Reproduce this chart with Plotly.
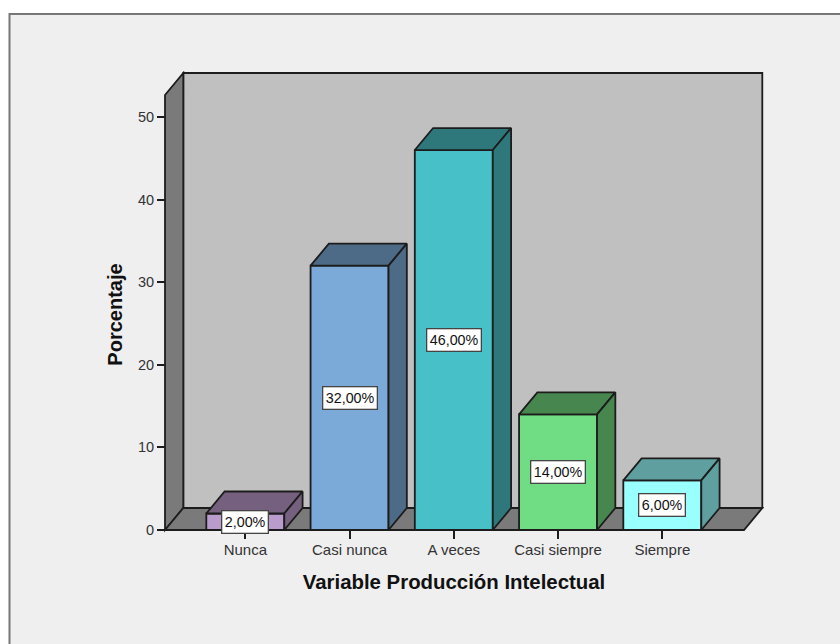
import plotly.graph_objects as go

categories = ["Nunca", "Casi nunca", "A veces", "Casi siempre", "Siempre"]
values = [2, 32, 46, 14, 6]
value_labels = ["2,00%", "32,00%", "46,00%", "14,00%", "6,00%"]
y_ticks = [0, 10, 20, 30, 40, 50]
front_colors = ["#B99CCB", "#7BA9D8", "#47C1C7", "#70DC84", "#99FFFF"]
depth_colors = ["#75607F", "#4D6B87", "#2E787C", "#47864F", "#5F9F9F"]

W, H = 840, 644
INK = "#1c1c1c"
LW = 1.8
# pixel calibration of the two axes
PX_CAT = 104.25
PX_VAL = 8.26
X0_PX = 245.3
Y0_PX = 530.0
DOM_L, DOM_R, DOM_T, DOM_B = 144.0, 764.0, 71.0, 558.0
DX = 18.3 / PX_CAT
DY = 22.0 / PX_VAL
BAR_W = 0.748

x_left = (165 - X0_PX) / PX_CAT
x_right = (744 - X0_PX) / PX_CAT
y_top = (Y0_PX - 95) / PX_VAL

fig = go.Figure()

fig.add_trace(go.Bar(
    x=list(range(len(categories))), y=values, width=BAR_W,
    marker=dict(color=front_colors, line=dict(color=INK, width=LW)),
    hoverinfo="skip", showlegend=False,
))

# top and side faces of each bar, derived from the values
for i, v in enumerate(values):
    l, r = i - BAR_W / 2, i + BAR_W / 2
    fig.add_trace(go.Scatter(
        x=[l, r, r + DX, l + DX, l], y=[v, v, v + DY, v + DY, v],
        mode="lines", fill="toself", fillcolor=depth_colors[i],
        line=dict(color=INK, width=LW), hoverinfo="skip", showlegend=False,
    ))
    fig.add_trace(go.Scatter(
        x=[r, r + DX, r + DX, r, r], y=[0, DY, v + DY, v, 0],
        mode="lines", fill="toself", fillcolor=depth_colors[i],
        line=dict(color=INK, width=LW), hoverinfo="skip", showlegend=False,
    ))

shapes = [
    # panel frame, running off the right and bottom edges
    dict(type="rect", xref="paper", yref="paper", layer="below",
         x0=9.5 / W, x1=1.02, y0=-0.02, y1=1 - 14 / H,
         fillcolor="#EFEFEF", line=dict(color="#777777", width=2)),
    # back wall
    dict(type="rect", xref="x", yref="y", layer="below",
         x0=x_left + DX, x1=x_right + DX, y0=DY, y1=y_top + DY,
         fillcolor="#C0C0C0", line=dict(color=INK, width=LW)),
    # left wall
    dict(type="path", xref="x", yref="y", layer="below",
         path=f"M{x_left},0 L{x_left + DX},{DY} L{x_left + DX},{y_top + DY} L{x_left},{y_top} Z",
         fillcolor="#7A7A7A", line=dict(color=INK, width=LW)),
    # floor
    dict(type="path", xref="x", yref="y", layer="below",
         path=f"M{x_left},0 L{x_right},0 L{x_right + DX},{DY} L{x_left + DX},{DY} Z",
         fillcolor="#7A7A7A", line=dict(color=INK, width=LW)),
]

annotations = [
    dict(x=i, y=v / 2, text=t, showarrow=False, xref="x", yref="y",
         font=dict(family="Liberation Sans", size=14.3, color="#111111"),
         bgcolor="#FFFFFF", bordercolor="#444444", borderwidth=1.3, borderpad=2.5)
    for i, (v, t) in enumerate(zip(values, value_labels))
]

fig.update_layout(
    width=W, height=H, margin=dict(l=0, r=0, t=0, b=0),
    paper_bgcolor="#FFFFFF", plot_bgcolor="rgba(0,0,0,0)",
    showlegend=False, shapes=shapes, annotations=annotations,
    font=dict(family="Liberation Sans", color="#222222"),
    xaxis=dict(
        domain=[DOM_L / W, DOM_R / W],
        range=[(DOM_L - X0_PX) / PX_CAT, (DOM_R - X0_PX) / PX_CAT],
        anchor="free", position=1 - Y0_PX / H,
        tickmode="array", tickvals=list(range(len(categories))), ticktext=categories,
        ticks="outside", ticklen=8, tickwidth=LW, tickcolor=INK,
        ticklabelstandoff=-2,
        tickfont=dict(size=15, color="#333333"),
        showgrid=False, zeroline=False, showline=False,
        title=dict(text="<b>Variable Producción Intelectual</b>", standoff=17,
                   font=dict(size=20.4, color="#111111")),
    ),
    yaxis=dict(
        domain=[1 - DOM_B / H, 1 - DOM_T / H],
        range=[(Y0_PX - DOM_B) / PX_VAL, (Y0_PX - DOM_T) / PX_VAL],
        anchor="free", position=165 / W,
        tickmode="array", tickvals=y_ticks,
        ticks="outside", ticklen=8, tickwidth=LW, tickcolor=INK,
        tickfont=dict(size=14.5, color="#333333"),
        showgrid=False, zeroline=False, showline=False,
        title=dict(text="<b>Porcentaje</b>", standoff=8,
                   font=dict(size=20, color="#111111")),
    ),
)

fig.write_html("out.html", config={"displayModeBar": False},
               post_script="document.body.style.margin='0';document.body.style.overflow='hidden';")
